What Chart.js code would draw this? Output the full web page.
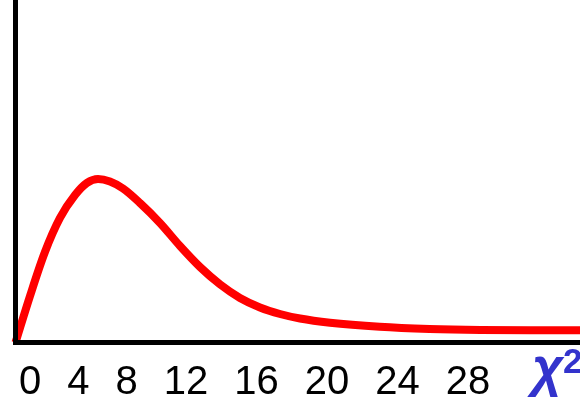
<!DOCTYPE html>
<html>
<head>
<meta charset="utf-8">
<script src="https://cdn.jsdelivr.net/npm/chart.js@4"></script>
<style>
    html, body { margin: 0; padding: 0; background: #fff; }
    #wrap { width: 580px; height: 402px; position: relative; }
</style>
</head>
<body>
<div id="wrap"><canvas id="chi-chart"></canvas></div>
<script>
// Values
const chiValues = [0, 1.08, 2.19, 3.31, 4.43, 5.32, 6.14, 7.03, 8.0, 9.26, 10.75, 12.24, 13.73, 15.22, 16.7, 18.19, 19.68, 21.17, 23.4, 27.1, 30.8, 34.6, 38.3, 42];
const density = [0, 0.0299, 0.0581, 0.08, 0.0947, 0.1025, 0.105, 0.1034, 0.0989, 0.0896, 0.0768, 0.062, 0.0485, 0.0373, 0.0286, 0.0225, 0.0183, 0.0154, 0.0127, 0.0101, 0.0087, 0.008, 0.0078, 0.0078];
const xTickLabels = ['0', '4', '8', '12', '16', '20', '24', '28'];
const axisSymbol = 'χ';
const axisPower = '2';

const fontFamily = '"Liberation Sans", Arial, sans-serif';

// Row of numbers under the axis, spaced like typed text
const labelRow = {
    id: 'labelRow',
    afterDraw(chart) {
        const ctx = chart.ctx;
        const base = chart.chartArea.bottom;
        ctx.save();
        ctx.textAlign = 'left';
        ctx.textBaseline = 'alphabetic';
        ctx.fillStyle = '#000';
        ctx.font = '40px ' + fontFamily;
        let x = 19;
        xTickLabels.forEach((label) => {
            ctx.fillText(label, x, base + 51.5);
            x += ctx.measureText(label).width + 26; // gap between numbers
        });

        // chi-square symbol at the end of the axis
        ctx.fillStyle = '#3333cc';
        ctx.font = 'italic bold 54px ' + fontFamily;
        ctx.fillText(axisSymbol, 532, base + 43.5);
        ctx.font = 'bold 35px ' + fontFamily;
        ctx.fillText(axisPower, 563, base + 30.5);
        ctx.restore();
    }
};

const ctx = document.getElementById('chi-chart').getContext('2d');
const chiChart = new Chart(ctx, {
    type: 'line',
    data: {
        datasets: [{
            data: chiValues.map((x, i) => ({ x: x, y: density[i] })),
            borderColor: '#ff0000',
            borderWidth: 8,
            pointRadius: 0,
            fill: false,
            cubicInterpolationMode: 'monotone',
            clip: false
        }]
    },
    options: {
        responsive: true,
        maintainAspectRatio: false,
        animation: false,
        layout: { padding: { left: 15.5, right: 0, top: 0, bottom: 59.5 } },
        scales: {
            x: {
                type: 'linear',
                min: 0,
                max: 42,
                grid: { display: false, drawTicks: false },
                ticks: { display: false },
                border: { display: true, color: '#000', width: 5, z: 1 }
            },
            y: {
                type: 'linear',
                min: 0,
                max: 0.22,
                grid: { display: false, drawTicks: false },
                ticks: { display: false },
                border: { display: true, color: '#000', width: 5, z: 1 }
            }
        },
        plugins: {
            legend: { display: false },
            tooltip: { enabled: false }
        }
    },
    plugins: [labelRow]
});
</script>
</body>
</html>
